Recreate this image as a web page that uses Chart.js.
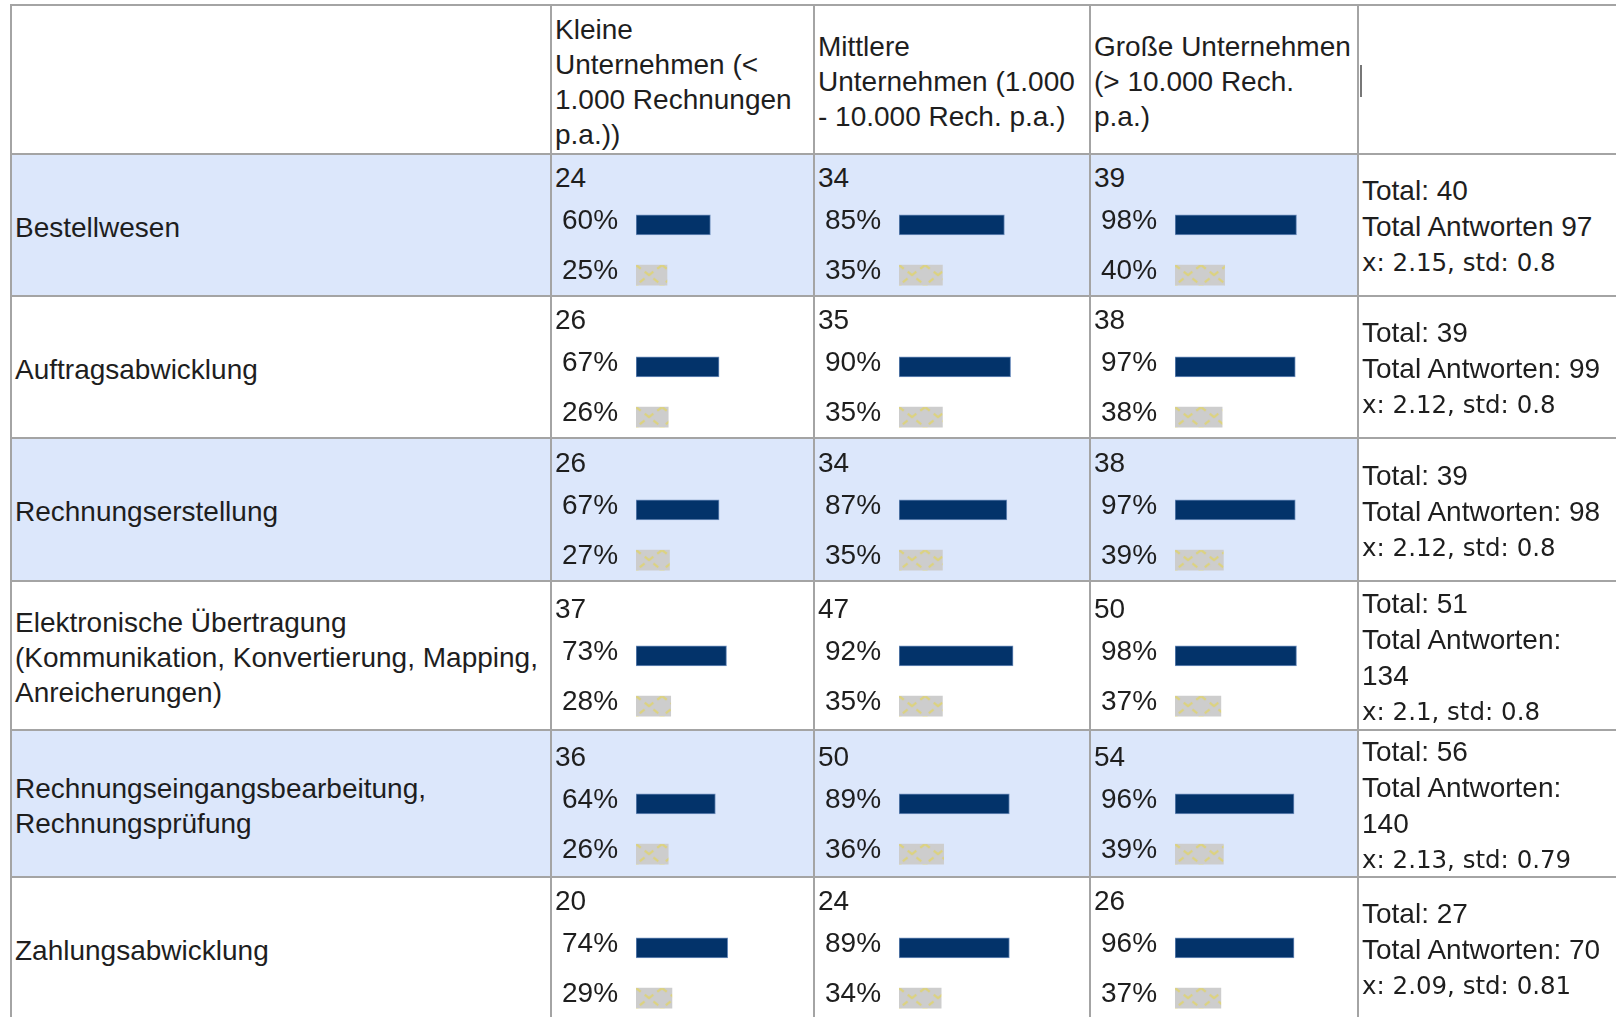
<!DOCTYPE html>
<html>
<head>
<meta charset="utf-8">
<script src="https://cdn.jsdelivr.net/npm/chart.js@4"></script>
<style>
    body {
        margin: 0;
        width: 1616px;
        height: 1017px;
        overflow: hidden;
        background: #fff;
        font-family: "Liberation Sans", Arial, sans-serif;
        font-size: 28px;
        color: #1e1e1e;
    }
    #grid {
        position: absolute;
        left: 10px;
        top: 4px;
        display: grid;
        grid-template-columns: 540px 263px 276px 268px 300px;
        grid-template-rows: 149px 142px 142px 143px 149px 147px 142px;
        border-left: 2px solid #a4a4a4;
        border-top: 2px solid #a4a4a4;
    }
    .cell {
        box-sizing: border-box;
        position: relative;
        border-right: 2px solid #a4a4a4;
        border-bottom: 2px solid #a4a4a4;
        line-height: 35px;
        white-space: pre;
    }
    .shaded { background: #dce7fb; }
    .label, .head, .stats {
        display: flex;
        flex-direction: column;
        justify-content: center;
        padding-left: 3px;
        padding-top: 4px;
    }
    .stats { line-height: 36px; }
    .stats .xs { font-family: "DejaVu Sans", Verdana, sans-serif; font-size: 24.5px; }
    .count {
        position: absolute;
        left: 3px;
        top: calc(50% - 65px);
    }
    /* canvas is taller than the 100px bar area: the y axis keeps half a label of room above and below */
    .bars {
        position: absolute;
        left: 10px;
        top: calc(50% - 42px);
        width: 198px;
        height: 134px;
    }
    .caret {
        position: absolute;
        left: 1px;
        top: 59px;
        width: 1.5px;
        height: 32px;
        background: #777;
    }
</style>
</head>
<body>
<div id="grid"></div>

<script>
const categories = [
    'Bestellwesen',
    'Auftragsabwicklung',
    'Rechnungserstellung',
    'Elektronische Übertragung\n(Kommunikation, Konvertierung, Mapping,\nAnreicherungen)',
    'Rechnungseingangsbearbeitung,\nRechnungsprüfung',
    'Zahlungsabwicklung'
];
const sizeHeaders = [
    'Kleine\nUnternehmen (<\n1.000 Rechnungen\np.a.))',
    'Mittlere\nUnternehmen (1.000\n- 10.000 Rech. p.a.)',
    'Große Unternehmen\n(> 10.000 Rech.\np.a.)'
];
const counts = [[24, 34, 39], [26, 35, 38], [26, 34, 38], [37, 47, 50], [36, 50, 54], [20, 24, 26]];
const sharePct = [[60, 85, 98], [67, 90, 97], [67, 87, 97], [73, 92, 98], [64, 89, 96], [74, 89, 96]];
const secondPct = [[25, 35, 40], [26, 35, 38], [27, 35, 39], [28, 35, 37], [26, 36, 39], [29, 34, 37]];
const totals = [40, 39, 39, 51, 56, 27];
const answers = [97, 99, 98, 134, 140, 70];
const answerSep = [' ', ': ', ': ', ':\n', ':\n', ': '];
const means = [2.15, 2.12, 2.12, 2.1, 2.13, 2.09];
const stds = [0.8, 0.8, 0.8, 0.8, 0.79, 0.81];

const BLUE = '#03336a';
const FONT = '"Liberation Sans", Arial, sans-serif';

Chart.defaults.font.family = FONT;
Chart.defaults.color = '#1e1e1e';

const grid = document.getElementById('grid');

function addCell(cls, text) {
    const div = document.createElement('div');
    div.className = 'cell ' + cls;
    if (text !== undefined) div.textContent = text;
    grid.appendChild(div);
    return div;
}

// grey bar fill with the faint yellow cross pattern
function makeHatch() {
    const c = document.createElement('canvas');
    c.width = 26;
    c.height = 20;
    const g = c.getContext('2d');
    g.fillStyle = '#cdcdcd';
    g.fillRect(0, 0, 26, 20);
    g.strokeStyle = 'rgba(226, 212, 100, 0.75)';
    g.lineWidth = 2.2;
    g.setLineDash([6, 5]);
    g.beginPath();
    g.moveTo(0, 0); g.lineTo(26, 20);
    g.moveTo(26, 0); g.lineTo(0, 20);
    g.stroke();
    return g.createPattern(c, 'repeat');
}
const hatch = makeHatch();

function drawBars(box, first, second) {
    const canvas = document.createElement('canvas');
    box.appendChild(canvas);
    new Chart(canvas, {
        type: 'bar',
        data: {
            labels: [first + '%', second + '%'],
            datasets: [{
                data: [first, second],
                backgroundColor: [BLUE, hatch],
                borderColor: ['#6f8fbd', 'rgba(0,0,0,0)'],
                borderWidth: [1, 0],
                borderSkipped: false,
                barThickness: 20
            }]
        },
        options: {
            indexAxis: 'y',
            responsive: true,
            maintainAspectRatio: false,
            animation: false,
            events: [],
            layout: { padding: 0 },
            plugins: {
                legend: { display: false },
                tooltip: { enabled: false }
            },
            scales: {
                x: { display: false, min: 0, max: 100 },
                y: {
                    grid: { display: false, drawTicks: false },
                    border: { display: false },
                    ticks: {
                        autoSkip: false,
                        crossAlign: 'far',
                        padding: 0,
                        labelOffset: -4,
                        color: '#1e1e1e',
                        font: { size: 28, family: FONT }
                    },
                    afterFit: scale => { scale.width = 74; }
                }
            }
        },
        plugins: [{
            // line the hatch up with the start of the bars
            id: 'hatchAlign',
            beforeDatasetsDraw(chart) {
                const a = chart.chartArea;
                hatch.setTransform(new DOMMatrix().translate(a.left, a.top + a.height * 0.75 - 10));
            }
        }]
    });
}

// header row
addCell('head');
sizeHeaders.forEach(h => addCell('head', h));
const lastHead = addCell('head');
const caret = document.createElement('div');
caret.className = 'caret';
lastHead.appendChild(caret);

// body rows
categories.forEach((cat, i) => {
    const shade = i % 2 === 0 ? ' shaded' : '';
    addCell('label' + shade, cat);

    for (let j = 0; j < 3; j++) {
        const cell = addCell('data' + shade);
        const cnt = document.createElement('div');
        cnt.className = 'count';
        cnt.textContent = counts[i][j];
        cell.appendChild(cnt);
        const box = document.createElement('div');
        box.className = 'bars';
        cell.appendChild(box);
        drawBars(box, sharePct[i][j], secondPct[i][j]);
    }

    const stats = addCell('stats');
    const l1 = document.createElement('div');
    l1.textContent = 'Total: ' + totals[i];
    const l2 = document.createElement('div');
    l2.textContent = 'Total Antworten' + answerSep[i] + answers[i];
    const l3 = document.createElement('div');
    l3.className = 'xs';
    l3.textContent = 'x: ' + means[i] + ', std: ' + stds[i];
    stats.append(l1, l2, l3);
});
</script>
</body>
</html>
